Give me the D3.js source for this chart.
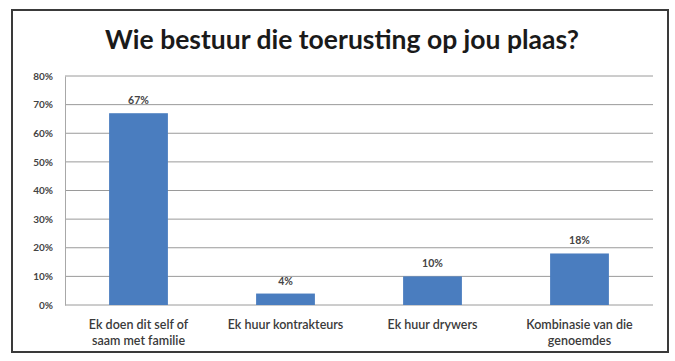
<!DOCTYPE html>
<html>
<head>
<meta charset="utf-8">
<script src="https://cdn.jsdelivr.net/npm/d3@7"></script>
<style>
  html, body { margin: 0; padding: 0; background: #fff; }
  svg { display: block; }
</style>
</head>
<body>
<svg id="chart" width="675" height="361"></svg>
<script>
// Survey answers: who operates the equipment on the farm
const categories = [
  ["Ek doen dit self of", "saam met familie"],
  ["Ek huur kontrakteurs"],
  ["Ek huur drywers"],
  ["Kombinasie van die", "genoemdes"]
];
const values = [0.67, 0.04, 0.10, 0.18];
const yTicks = [0, 0.1, 0.2, 0.3, 0.4, 0.5, 0.6, 0.7, 0.8];
const title = "Wie bestuur die toerusting op jou plaas?";

const svg = d3.select("#chart");
const plot = { left: 65, right: 653, top: 76, bottom: 305 };

// Frame around the whole chart
svg.append("rect")
  .attr("x", 12).attr("y", 10)
  .attr("width", 656).attr("height", 342)
  .attr("fill", "#fff")
  .attr("stroke", "#3a3a3a")
  .attr("stroke-width", 2);

svg.append("text")
  .attr("x", 342).attr("y", 49)
  .attr("text-anchor", "middle")
  .attr("font-family", "Lato, 'Open Sans', sans-serif")
  .attr("font-weight", "bold")
  .attr("font-size", 26.5)
  .attr("fill", "#1a1a1a")
  .text(title);

const x = d3.scaleBand()
  .domain(d3.range(categories.length))
  .range([plot.left, plot.right])
  .paddingInner(0.6)
  .paddingOuter(0.3);

const y = d3.scaleLinear()
  .domain([0, 0.8])
  .range([plot.bottom, plot.top]);

// Horizontal gridlines
svg.append("g")
  .selectAll("line")
  .data(yTicks)
  .join("line")
  .attr("x1", plot.left).attr("x2", plot.right)
  .attr("y1", d => y(d)).attr("y2", d => y(d))
  .attr("stroke", "#9a9a9a")
  .attr("stroke-width", 1);

// Value axis
const yAxis = svg.append("g")
  .attr("transform", `translate(${plot.left},0)`)
  .call(d3.axisLeft(y).tickValues(yTicks).tickFormat(d3.format(".0%")).tickSize(0).tickPadding(12));
yAxis.select(".domain").attr("stroke", "#a8a8a8");
yAxis.selectAll("text")
  .attr("font-family", "Lato, sans-serif")
  .attr("font-weight", "bold")
  .attr("font-size", 10)
  .attr("fill", "#444");

// Bars
svg.append("g")
  .selectAll("rect")
  .data(values)
  .join("rect")
  .attr("x", (d, i) => x(i))
  .attr("y", d => y(d))
  .attr("width", x.bandwidth())
  .attr("height", d => y(0) - y(d))
  .attr("fill", "#4a7dbf");

// Value labels above bars
svg.append("g")
  .selectAll("text")
  .data(values)
  .join("text")
  .attr("x", (d, i) => x(i) + x.bandwidth() / 2)
  .attr("y", d => y(d) - 9)
  .attr("text-anchor", "middle")
  .attr("font-family", "Lato, sans-serif")
  .attr("font-weight", "bold")
  .attr("font-size", 10.5)
  .attr("fill", "#444")
  .text(d => d3.format(".0%")(d));

// Category labels
const xl = svg.append("g")
  .selectAll("text")
  .data(categories)
  .join("text")
  .attr("x", (d, i) => x(i) + x.bandwidth() / 2)
  .attr("y", 329)
  .attr("text-anchor", "middle")
  .attr("font-family", "Lato, sans-serif")
  .attr("font-weight", 600)
  .attr("font-size", 12.5)
  .attr("fill", "#3a3a3a");
xl.selectAll("tspan")
  .data(d => d)
  .join("tspan")
  .attr("x", function () { return this.parentNode.getAttribute("x"); })
  .attr("dy", (d, i) => i === 0 ? 0 : 16)
  .text(d => d);
</script>
</body>
</html>
